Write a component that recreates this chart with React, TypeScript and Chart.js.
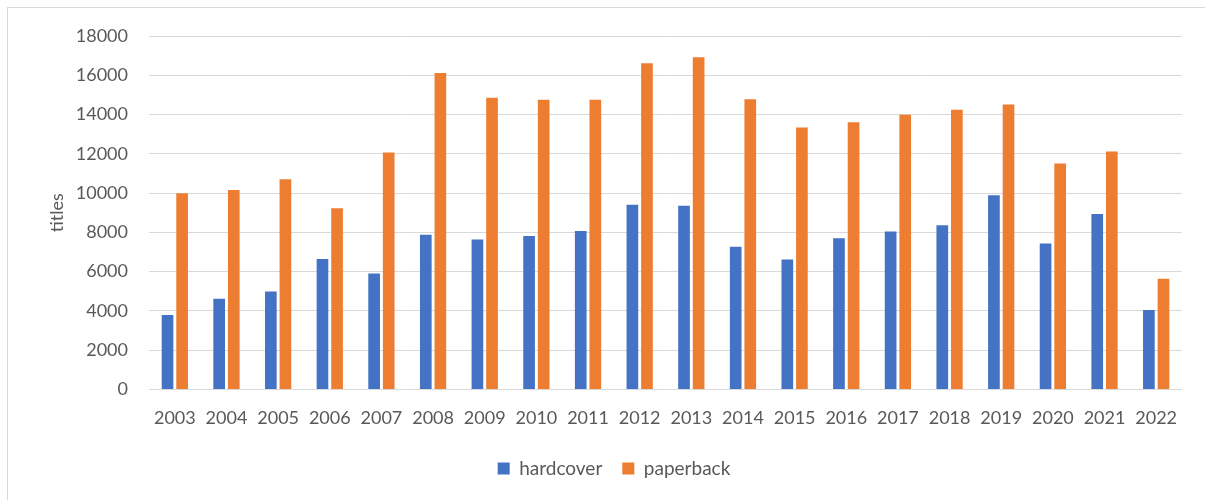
import React, { useEffect, useRef } from "react";
import { Chart, registerables } from "chart.js";

Chart.register(...registerables);

const years = ["2003","2004","2005","2006","2007","2008","2009","2010","2011","2012","2013","2014","2015","2016","2017","2018","2019","2020","2021","2022"];
const hardcover = [3790, 4620, 4990, 6640, 5900, 7880, 7630, 7810, 8070, 9410, 9360, 7260, 6610, 7700, 8040, 8360, 9890, 7430, 8940, 4050];
const paperback = [9990, 10160, 10710, 9230, 12060, 16120, 14850, 14750, 14750, 16610, 16920, 14780, 13340, 13610, 13990, 14240, 14510, 11510, 12120, 5630];
const yTicks = [0, 2000, 4000, 6000, 8000, 10000, 12000, 14000, 16000, 18000];

const FONT = "Lato, 'Open Sans', 'Liberation Sans', sans-serif";
const TEXT = "#595959";

export default function App() {
  const ref = useRef<HTMLCanvasElement | null>(null);
  useEffect(() => {
    if (!ref.current) return;
    const chart = new Chart(ref.current, {
      type: "bar",
      data: {
        labels: years,
        datasets: [
          { label: "hardcover", data: hardcover, backgroundColor: "#4472C4", borderWidth: 0, categoryPercentage: 0.565, barPercentage: 0.8 },
          { label: "paperback", data: paperback, backgroundColor: "#ED7D31", borderWidth: 0, categoryPercentage: 0.565, barPercentage: 0.8 },
        ],
      },
      options: {
        responsive: false,
        animation: false,
        layout: { padding: { top: 28, right: 38, left: 38, bottom: 12 } },
        plugins: {
          tooltip: { enabled: false },
          legend: {
            position: "bottom",
            labels: {
              boxWidth: 12,
              boxHeight: 12,
              padding: 20,
              color: TEXT,
              font: { family: FONT, size: 19 },
            },
          },
        },
        scales: {
          x: {
            afterFit: (s: any) => { s.height = s.height - 8; },
            grid: { display: false, drawTicks: false },
            border: { display: false },
            ticks: { color: TEXT, font: { family: FONT, size: 18 }, padding: 18, maxRotation: 0, autoSkip: false },
          },
          y: {
            min: 0,
            max: 18000,
            afterFit: (s: any) => { s.width = 103; },
            afterBuildTicks: (s: any) => { s.ticks = yTicks.map((v) => ({ value: v })); },
            grid: { color: "#d9d9d9", lineWidth: 1, drawTicks: true, tickLength: 4, tickColor: "rgba(0,0,0,0)" },
            border: { display: false },
            ticks: { color: TEXT, font: { family: FONT, size: 18 }, padding: 17, callback: (v: any) => String(v) },
            title: { display: true, text: "titles", color: TEXT, font: { family: FONT, size: 18 }, padding: { top: 0, bottom: 0 } },
          },
        },
      },
    });
    return () => chart.destroy();
  }, []);
  return (
    <div style={{ position: "fixed", inset: 0, overflow: "hidden", background: "#fff" }}>
      <div style={{ position: "absolute", left: 7, top: 7, width: 1240, height: 520, border: "1px solid #d9d9d9", boxSizing: "border-box" }} />
      <div style={{ position: "absolute", left: 8, top: 8, width: 1212, height: 492 }}>
        <canvas ref={ref} width={1212} height={492} />
      </div>
    </div>
  );
}
